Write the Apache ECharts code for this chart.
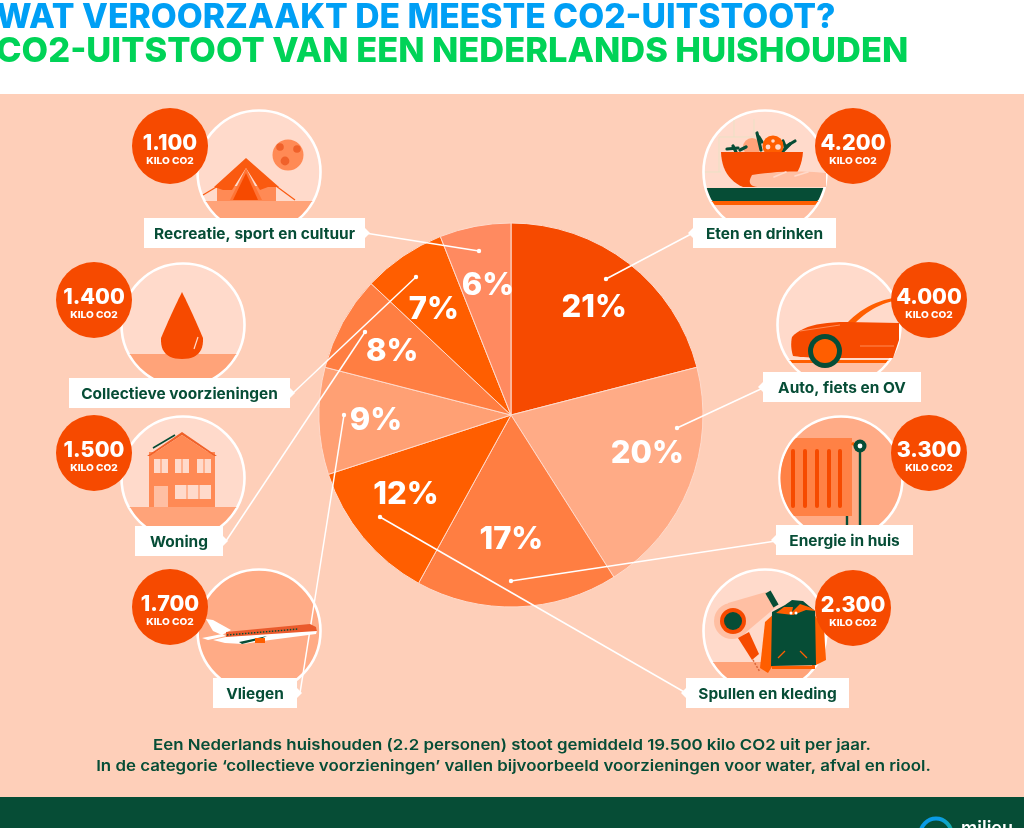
<!DOCTYPE html>
<html><head><meta charset="utf-8">
<style>html,body{margin:0;padding:0;background:#fff}#c{width:1024px;height:828px}</style>
<script src="https://cdn.jsdelivr.net/npm/echarts@6/dist/echarts.min.js"></script>
</head><body><div id="c"></div>
<script>
const categories = ['Eten en drinken','Auto, fiets en OV','Energie in huis','Spullen en kleding','Vliegen','Woning','Collectieve voorzieningen','Recreatie, sport en cultuur'];
const shares = [21,20,17,12,9,8,7,6];
const kiloLabels = ['4.200','4.000','3.300','2.300','1.700','1.500','1.400','1.100'];
const sliceColors = ['#F64A00','#FFAB86','#FF7E42','#FF5E00','#FFA074','#FF7E42','#FF5E00','#FF8A60'];
const titleLines = ['WAT VEROORZAAKT DE MEESTE CO2-UITSTOOT?','CO2-UITSTOOT VAN EEN NEDERLANDS HUISHOUDEN'];
const noteLines = ['Een Nederlands huishouden (2.2 personen) stoot gemiddeld 19.500 kilo CO2 uit per jaar.','In de categorie \u2018collectieve voorzieningen\u2019 vallen bijvoorbeeld voorzieningen voor water, afval en riool.'];

const FONT = 'Inter, "Open Sans", sans-serif';
const DARK='#064D36', RED='#F64A00', ORANGE='#FF5E00', MID='#FF8A55', SAND='#FFA379', PALE='#FFDACB', SKIN='#FFBFA3', PEACH='#FECFB9';
const g = [];
const rect=(x,y,w,h,fill,z=0,r=0)=>g.push({type:'rect',z,shape:{x,y,width:w,height:h,r},style:{fill}});
const circ=(cx,cy,r,fill,z=6,stroke,lw)=>g.push({type:'circle',z,shape:{cx,cy,r},style:{fill,stroke,lineWidth:lw}});
const poly=(pts,fill,z=6)=>g.push({type:'polygon',z,shape:{points:pts},style:{fill}});
const line=(x1,y1,x2,y2,stroke,lw,z=6,dash,cap)=>g.push({type:'line',z,shape:{x1,y1,x2,y2},style:{stroke,lineWidth:lw,lineDash:dash,lineCap:cap||'butt'}});
const text=(x,y,t,size,weight,fill,align='center',sx=1,z=9)=>g.push({type:'text',z,x,y,scaleX:sx,style:{text:t,font:weight+' '+size+'px '+FONT,fill,align,verticalAlign:'middle'}});
const band=(cx,cy,r,y1,y2,fill,z=6,xMax=1e9)=>{const p=[];for(let i=0;i<120;i++){const a=i/120*Math.PI*2;let x=Math.min(xMax,cx+r*Math.cos(a)),y=cy+r*Math.sin(a);y=Math.min(y2,Math.max(y1,y));p.push([x,y]);}poly(p,fill,z);};
const bez=(p0,p1,p2,n=12)=>{const o=[];for(let i=0;i<=n;i++){const t=i/n,u=1-t;o.push([u*u*p0[0]+2*u*t*p1[0]+t*t*p2[0],u*u*p0[1]+2*u*t*p1[1]+t*t*p2[1]]);}return o;};

// backgrounds
rect(0,94,1024,703,PEACH,0);
rect(0,797,1024,31,DARK,0);
text(-4,17.5,titleLines[0],34,800,'#009FF5','left',0.99);
text(-4,52,titleLines[1],34,800,'#00D357','left',1.012);
text(512,745,noteLines[0],15,600,DARK,'center',1.123);
text(513.5,766.5,noteLines[1],15,600,DARK,'center',1.125);
// logo
g.push({type:'arc',z:6,shape:{cx:936,cy:834,r:15.5,startAngle:Math.PI,endAngle:Math.PI*2},style:{stroke:new echarts.graphic.LinearGradient(0,0,1,0,[{offset:0,color:'#0A9BE6'},{offset:0.6,color:'#0A9BE6'},{offset:1,color:'#17AFA0'}]),lineWidth:4,fill:null}});
text(961,829,'milieu',18,600,'#fff','left');

// illustration circles
const rings={rec:[259,172],col:[183,325],won:[183,478],vli:[259,631],ete:[765,172],aut:[839,325],ene:[841,478],spu:[765,631]};
const R=61.5;
const disc=(k,fill)=>circ(rings[k][0],rings[k][1],R,fill,1,'#fff',2.6);
const bnd=(k,y1,y2,f)=>band(rings[k][0],rings[k][1],R-1.2,y1,y2,f,2);

// recreatie
disc('rec',PALE);bnd('rec',201,240,SAND);
poly([[217,186],[276,186],[276,201],[217,201]],MID);
line(203,195,218,186,'#FA5A10',1.2);line(276,186,295,200,'#FA5A10',1.2);
poly([[246,158],[214,187],[223,190],[232,190],[246,168],[260,190],[268,187],[279,187]],'#FA5A10');
poly([[246,168],[230,200],[262,200]],'#FF7435');
poly([[246,173],[233,200],[258,200]],RED);
circ(288,155,15.5,MID);
circ(280,147,3.8,'#F0612A');circ(297,149,3.8,'#F0612A');circ(285,161,4.4,'#F0612A');
// collectief
disc('col',PALE);bnd('col',354,392,SAND);
{const l=[...bez([182,292],[172,312],[161,338]),...bez([161,338],[160,359],[182,359])];const r=[...bez([182,359],[204,359],[203,338]),...bez([203,338],[192,312],[182,292])];poly([...l,...r.slice(1)],RED);
 line(198,337,194,349,'#FFDACB',1.2);}
// woning
disc('won',PALE);bnd('won',507,545,SAND);
rect(149,452,66,55,MID,6);
poly([[182,432],[147,456],[150,456],[182,435],[214,456],[217,456]],'#F0612A');
poly([[182,435],[150,456],[214,456]],MID);
line(153,448,175,435,DARK,1.6);
[[154,459,14,14],[175,459,14,14],[197,459,14,14],[175,485,36,14]].forEach(w=>{rect(w[0],w[1],w[2],w[3],PALE,6);});
line(161,459,161,473,MID,1);line(182,459,182,473,MID,1);line(204,459,204,473,MID,1);line(187,485,187,499,MID,1);line(199,485,199,499,MID,1);
rect(154,486,14,21,SKIN,6);
// vliegen
disc('vli','#FFAB86');
poly([[206,619],[213,620],[231,630],[222,635],[213,631]],'#fff');
poly([[226,632],[310,624],[316,627],[317,632],[226,638]],'#EA5A2C');
poly([[213,640],[226,637],[317,631],[316,634],[270,640],[243,644],[225,643]],'#fff');
poly([[202,638],[222,634],[226,636],[208,640]],'#fff');
poly([[239,642],[267,636],[258,640],[242,644]],DARK);
rect(255,638,10,5,ORANGE,6);
line(227,635,298,629,DARK,1.4,6,[1.5,1.5]);
// eten
disc('ete',PALE);
[[719,137,719,172],[719,137,753,137],[734,120,734,137],[754,119,754,152],[705,172,721,172]].forEach(a=>line(a[0],a[1],a[2],a[3],'#E6E3C4',0.8,2));
bnd('ete',188,201,DARK);bnd('ete',201,205,ORANGE);bnd('ete',205,240,SKIN);
circ(752,147,9,SAND);
[[727,149,738,148],[733,146,736,152],[740,150,746,147],[757,133,761,150],[762,142,759,137],[782,152,790,144],[785,147,795,141],[785,146,783,141]].forEach(a=>line(a[0],a[1],a[2],a[3],DARK,3.2,6,null,'round'));
circ(773,146,10.5,ORANGE);
circ(768,147,2.4,PALE);circ(778,147,2.8,PALE);circ(773,141,1.8,PALE);
poly([...bez([721,152],[722,178],[743,187]),[780,187],...bez([780,187],[801,178],[803,152])],RED);
{const b=[...bez([760,187],[745,187],[752,175]),...bez([752,175],[790,169],[826,173])];poly([...b,[826,187]],SKIN);}
line(774,177,786,172,PALE,1.6,6,null,'round');line(795,176,808,172,PALE,1.6,6,null,'round');
// auto
disc('aut',PALE);bnd('aut',360,363,ORANGE);bnd('aut',363,384,SKIN);
{const ws=[...bez([847,323],[866,303],[893,298]),[893,301],...bez([893,301],[872,306],[855,323])];poly(ws,ORANGE);}
{const b=[...bez([792,337],[805,322],[846,322]),[899,323],[899,340],[893,358],...bez([840,358],[805,358],[793,356]),...bez([793,356],[790,346],[792,337])];poly(b,RED);}
line(860,346,894,346,MID,1.2);line(800,331,840,325,MID,1);
circ(825,351,17,DARK);circ(825,351,12,ORANGE);
// energie
disc('ene','#FFAB86');
band(841,478,60.5,438,516,'#FF8145',2,852);
[793,805,817,829,840].forEach(x=>line(x,451,x,506,RED,4,6,null,'round'));
line(852,443,856,446,ORANGE,3);
line(860,446,860,526,DARK,2.4);line(847,516,847,526,DARK,2.4);
circ(860,446,6.5,DARK);circ(860,446,2.4,'#fff');
// spullen
disc('spu',PALE);bnd('spu',662,700,SAND);
circ(732,621,18,SKIN);
poly([[728,603],[766,592],[776,607],[738,639]],SKIN);
poly([[738,638],[749,632],[759,654],[752,660]],RED);
line(753,660,760,672,'#D9663A',1.5,6,[2,1.5]);
line(768,592,776,606,DARK,6);
circ(733,621,13,RED);circ(733,621,9,DARK);
poly([[776,612],[765,622],[760,668],[768,673],[773,665],[775,640]],ORANGE);
poly([[813,612],[824,630],[826,660],[812,667]],ORANGE);
poly([[772,612],[785,605],[792,600],[803,601],[815,611],[816,665],[771,666]],DARK);
poly([[776,613],[784,607],[793,607],[792,612],[800,604],[809,607],[816,611],[806,610],[793,615]],ORANGE);
circ(791,613,1.5,'#fff');circ(796,613,1.5,'#fff');
rect(772,666,43,3,ORANGE,6);
line(778,658,785,651,ORANGE,1.2);line(807,658,800,651,ORANGE,1.2);

// leader lines (annotation connectors)
const leaders=[[693,233,606,279],[763,388,677,428],[776,541,511,581],[686,693,380,517],[300,693,344,415],[226,541,365,332],[293,393,416,277],[365,233,479,251]];
leaders.forEach(a=>{line(a[0],a[1],a[2],a[3],'#fff',1.5,3);circ(a[2],a[3],2.2,'#fff',3);});

// label boxes, in the order of categories
const boxes=[[693,218,143,30,-1],[763,372,158,30,-1],[776,525,137,30,-1],[686,678,163,30,-1],[213,678,84,30,1],[135,526,88,30,1],[69,378,221,30,1],[144,218,221,30,1]];
boxes.forEach((b,i)=>{
  rect(b[0],b[1],b[2],b[3],'#fff',7);
  const my=b[1]+15, ex=b[4]>0?b[0]+b[2]:b[0];
  poly([[ex,my-5],[ex+b[4]*5,my],[ex,my+5]],'#fff',7);
  text(b[0]+b[2]/2,my+1,categories[i],15,700,DARK,'center',1.03);
});
// badges
const badges=[[853,146],[929,300],[929,453],[853,608],[170,607],[94,453],[94,300],[170,146]];
badges.forEach((b,i)=>{
  circ(b[0],b[1],38,RED,8);
  text(b[0],b[1]-2.5,kiloLabels[i],21.5,800,'#fff');
  text(b[0],b[1]+15,'KILO CO2',9.2,800,'#fff','center',1.1);
});

const labelNudge=[[-2,3],[7,-12],[-4,-14],[2,-9],[4,1],[3,4],[1,10],[3,7]];
const pieData=categories.map((n,i)=>({name:n,value:shares[i],itemStyle:{color:sliceColors[i]}}));
const chart=echarts.init(document.getElementById('c'),null,{renderer:'canvas'});
chart.setOption({
  animation:false,
  backgroundColor:'#fff',
  graphic:{elements:g},
  series:[
   {type:'pie',z:2,center:[511,415],radius:[0,192],startAngle:90,silent:true,
    label:{show:false},labelLine:{show:false},
    itemStyle:{borderColor:'#FFDACB',borderWidth:1},data:pieData},
   {type:'pie',z:4,center:[511,415],radius:[80,192],startAngle:90,silent:true,labelLine:{show:false},
    label:{show:true,position:'inside',formatter:'{c}%',color:'#fff',fontFamily:FONT,fontWeight:800,fontSize:31},
    labelLayout:p=>({dx:labelNudge[p.dataIndex][0],dy:labelNudge[p.dataIndex][1]}),
    itemStyle:{color:'rgba(0,0,0,0)',borderWidth:0},
    data:categories.map((n,i)=>({name:n,value:shares[i],itemStyle:{color:'rgba(0,0,0,0)'}}))}
  ]
});
</script></body></html>
